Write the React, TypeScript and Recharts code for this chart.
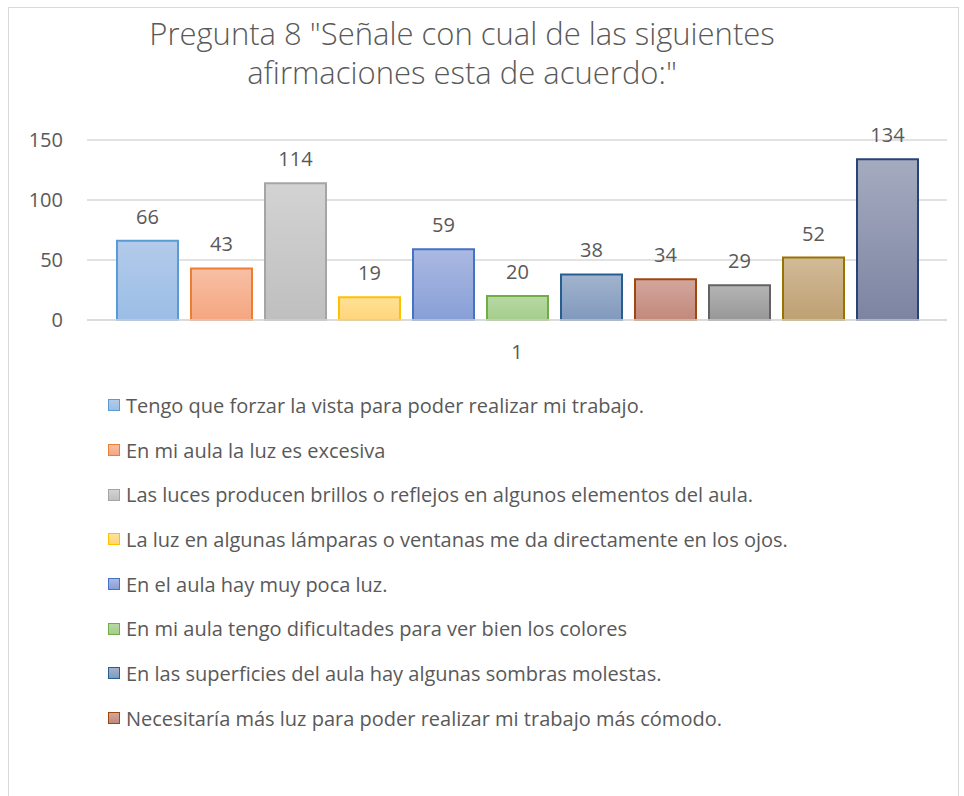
import React from 'react';
import { BarChart, Bar, XAxis, YAxis, CartesianGrid, LabelList } from 'recharts';

const categories = ['1'];
const values = [66, 43, 114, 19, 59, 20, 38, 34, 29, 52, 134];
const legendNames = [
  'Tengo que forzar la vista para poder realizar mi trabajo.',
  'En mi aula la luz es excesiva',
  'Las luces producen brillos o reflejos en algunos elementos del aula.',
  'La luz en algunas lámparas o ventanas me da directamente en los ojos.',
  'En el aula hay muy poca luz.',
  'En mi aula tengo dificultades para ver bien los colores',
  'En las superficies del aula hay algunas sombras molestas.',
  'Necesitaría más luz para poder realizar mi trabajo más cómodo.',
];
const yTicks = [0, 50, 100, 150];

// [top, bottom, border]
const COLORS = [
  ['#b3cbea', '#9bbde6', '#5b9bd5'],
  ['#f8bfa5', '#f5a67f', '#ed7d31'],
  ['#d3d3d3', '#bfbfbf', '#a5a5a5'],
  ['#ffe196', '#ffd57b', '#ffc000'],
  ['#abb9e2', '#889fd6', '#4472c4'],
  ['#b8d8a4', '#a4ce8c', '#70ad47'],
  ['#a2b4cd', '#8099bd', '#255e91'],
  ['#d3a69d', '#c3887c', '#9e480e'],
  ['#b5b5b5', '#979797', '#636363'],
  ['#d2bb98', '#bea072', '#997300'],
  ['#a5abbf', '#7c84a2', '#264478'],
];

const data = categories.map((c) => {
  const row: Record<string, string | number> = { name: c };
  values.forEach((v, i) => {
    row['s' + i] = v;
  });
  return row;
});

const FONT = '"Open Sans", Lato, sans-serif';
const TEXT = '#595959';

export default function App() {
  return (
    <div style={{ position: 'absolute', left: 0, top: 0, width: 964, height: 796, background: '#fff', fontFamily: FONT, overflow: 'hidden' }}>
      <div style={{ position: 'absolute', left: 8, top: 7, width: 951, height: 800, border: '1px solid #d9d9d9', boxSizing: 'border-box' }} />
      <div style={{ position: 'absolute', left: 0, top: 14, width: 924, textAlign: 'center', color: TEXT, fontSize: 31, fontWeight: 300, lineHeight: '39px' }}>
        Pregunta 8 "Señale con cual de las siguientes
        <br />
        afirmaciones esta de acuerdo:"
      </div>
      <div style={{ position: 'absolute', left: 0, top: 0 }}>
        <BarChart
          width={964}
          height={370}
          data={data}
          margin={{ top: 140, right: 17, left: 27, bottom: 0 }}
          barSize={61}
          barGap={13}
        >
          <defs>
            {COLORS.map((c, i) => (
              <linearGradient key={i} id={'g' + i} x1="0" y1="0" x2="0" y2="1">
                <stop offset="0%" stopColor={c[0]} />
                <stop offset="100%" stopColor={c[1]} />
              </linearGradient>
            ))}
          </defs>
          <CartesianGrid vertical={false} stroke="#d9d9d9" strokeWidth={1.5} />
          <XAxis
            dataKey="name"
            axisLine={{ stroke: '#d9d9d9', strokeWidth: 1.5 }}
            tickLine={false}
            height={50}
            tickMargin={19}
            tick={{ fill: TEXT, fontSize: 20, fontFamily: FONT }}
          />
          <YAxis
            domain={[0, 150]}
            ticks={yTicks}
            width={60}
            axisLine={false}
            tickLine={false}
            tickMargin={18}
            tick={{ fill: TEXT, fontSize: 20, fontFamily: FONT }}
          />
          {values.map((_, i) => (
            <Bar
              key={i}
              dataKey={'s' + i}
              fill={`url(#g${i})`}
              stroke={COLORS[i][2]}
              strokeWidth={2}
              isAnimationActive={false}
            >
              <LabelList dataKey={'s' + i} position="top" offset={17} fill={TEXT} fontSize={20} fontFamily={FONT} />
            </Bar>
          ))}
        </BarChart>
      </div>
      <div style={{ position: 'absolute', left: 108, top: 383 }}>
        {legendNames.map((n, i) => (
          <div key={i} style={{ display: 'flex', alignItems: 'center', height: 44.7, color: TEXT, fontSize: 20 }}>
            <span
              style={{
                display: 'inline-block',
                width: 12,
                height: 12,
                boxSizing: 'border-box',
                border: `1.5px solid ${COLORS[i][2]}`,
                background: `linear-gradient(${COLORS[i][0]}, ${COLORS[i][1]})`,
                marginRight: 6,
              }}
            />
            <span>{n}</span>
          </div>
        ))}
      </div>
    </div>
  );
}
